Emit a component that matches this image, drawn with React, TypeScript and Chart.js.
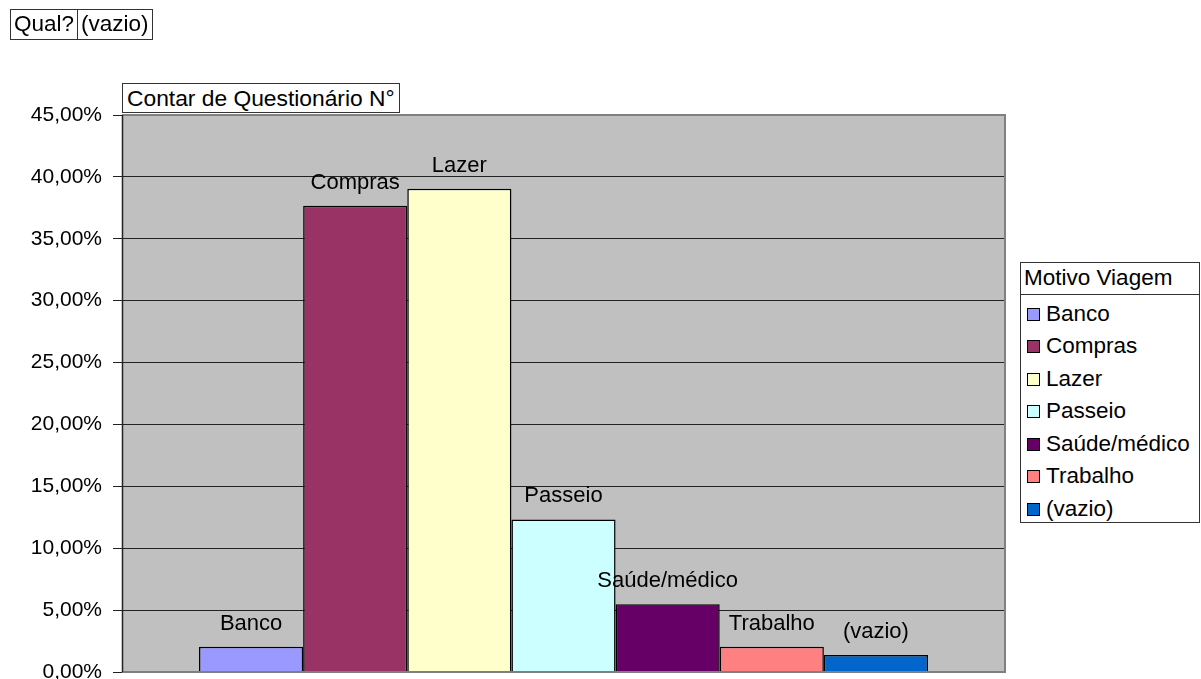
import React, { useEffect, useRef } from "react";
import { Chart, registerables } from "chart.js";

Chart.register(...registerables);

const categories = ["Banco", "Compras", "Lazer", "Passeio", "Saúde/médico", "Trabalho", "(vazio)"];
const values = [2.05, 37.67, 39.04, 12.33, 5.48, 2.05, 1.37];
const colors = ["#9999FF", "#993366", "#FFFFCC", "#CCFFFF", "#660066", "#FF8080", "#0066CC"];
const yTicks = [0, 5, 10, 15, 20, 25, 30, 35, 40, 45];
const legendTitle = "Motivo Viagem";
const pageFieldName = "Qual?";
const pageFieldValue = "(vazio)";
const dataFieldName = "Contar de Questionário N°";

const FONT = "'Liberation Sans', Arial, sans-serif";

const plotBgPlugin = {
  id: "plotBg",
  beforeDraw(chart: any) {
    const { ctx, chartArea: a } = chart;
    ctx.save();
    ctx.fillStyle = "#C0C0C0";
    ctx.fillRect(a.left, a.top, a.right - a.left, a.bottom - a.top);
    ctx.restore();
  },
  afterDraw(chart: any) {
    const { ctx, chartArea: a } = chart;
    ctx.save();
    ctx.strokeStyle = "#808080";
    ctx.lineWidth = 2;
    ctx.beginPath();
    ctx.moveTo(a.left, a.top);
    ctx.lineTo(a.right, a.top);
    ctx.lineTo(a.right, a.bottom);
    ctx.lineTo(a.left, a.bottom);
    ctx.stroke();
    ctx.strokeStyle = "#222";
    ctx.lineWidth = 1.5;
    ctx.beginPath();
    ctx.moveTo(a.left + 0.5, a.top);
    ctx.lineTo(a.left + 0.5, a.bottom);
    ctx.stroke();
    ctx.restore();
  },
};

const labelPlugin = {
  id: "barLabels",
  afterDatasetsDraw(chart: any) {
    const { ctx } = chart;
    ctx.save();
    ctx.font = `22px ${FONT}`;
    ctx.fillStyle = "#000";
    ctx.textAlign = "center";
    ctx.textBaseline = "middle";
    chart.data.datasets.forEach((ds: any, i: number) => {
      const meta = chart.getDatasetMeta(i);
      const bar = meta.data[0];
      if (!bar) return;
      ctx.fillText(ds.label, bar.x, bar.y - 23);
    });
    ctx.restore();
  },
};

export default function App() {
  const canvasRef = useRef<HTMLCanvasElement | null>(null);

  useEffect(() => {
    if (!canvasRef.current) return;
    const chart = new Chart(canvasRef.current, {
      type: "bar",
      data: {
        labels: [""],
        datasets: categories.map((c, i) => ({
          label: c,
          data: [values[i]],
          backgroundColor: colors[i],
          borderColor: "#000",
          borderWidth: 1.5,
          categoryPercentage: 729 / 883,
          barPercentage: 1,
        })),
      },
      options: {
        animation: false,
        responsive: false,
        maintainAspectRatio: false,
        layout: { padding: { left: 0, right: 196, top: 115, bottom: 7 } },
        plugins: { legend: { display: false }, tooltip: { enabled: false }, title: { display: false } },
        scales: {
          x: { display: false },
          y: {
            min: 0,
            max: 45,
            afterFit: (scale: any) => {
              scale.width = 122;
              scale.paddingTop = 0;
              scale.paddingBottom = 0;
            },
            afterBuildTicks: (scale: any) => {
              scale.ticks = yTicks.map((v) => ({ value: v }));
            },
            ticks: {
              padding: 11,
              color: "#000",
              font: { family: FONT, size: 21 },
              callback: (v: any) => Number(v).toFixed(2).replace(".", ",") + "%",
            },
            grid: { color: "#222", lineWidth: 1, tickLength: 9, tickColor: "#222", drawTicks: true },
            border: { display: true, color: "#222", width: 1 },
          },
        },
      },
      plugins: [plotBgPlugin, labelPlugin],
    } as any);
    return () => chart.destroy();
  }, []);

  const boxText: React.CSSProperties = {
    fontFamily: FONT,
    fontSize: 22,
    color: "#000",
    lineHeight: 1,
    whiteSpace: "nowrap",
  };

  return (
    <div style={{ position: "absolute", left: 0, top: 0, width: 1201, height: 679, background: "#fff", overflow: "hidden" }}>
      <canvas ref={canvasRef} width={1201} height={679} style={{ position: "absolute", left: 0, top: 0, width: 1201, height: 679 }} />
      {/* page field */}
      <div style={{ position: "absolute", left: 10, top: 9, height: 31, display: "flex", border: "1px solid #333", boxSizing: "border-box" }}>
        <div style={{ ...boxText, fontSize: 22.5, padding: "0 3px", display: "flex", alignItems: "center", borderRight: "1px solid #333" }}>{pageFieldName}</div>
        <div style={{ ...boxText, fontSize: 22.5, padding: "0 3px", display: "flex", alignItems: "center" }}>{pageFieldValue}</div>
      </div>
      {/* data field */}
      <div style={{ position: "absolute", left: 122, top: 83, height: 30, border: "1px solid #333", boxSizing: "border-box", background: "#fff", display: "flex", alignItems: "center", padding: "0 4px" }}>
        <span style={{ ...boxText, fontSize: 22.8 }}>{dataFieldName}</span>
      </div>
      {/* legend */}
      <div style={{ position: "absolute", left: 1020, top: 262, width: 180, height: 261, border: "1px solid #333", boxSizing: "border-box", background: "#fff" }}>
        <div style={{ position: "absolute", left: 0, top: 0, width: "100%", height: 32, borderBottom: "1px solid #333", boxSizing: "border-box", display: "flex", alignItems: "center", paddingLeft: 3 }}>
          <span style={{ ...boxText, fontSize: 22.5 }}>{legendTitle}</span>
        </div>
        {categories.map((c, i) => (
          <div key={c} style={{ position: "absolute", left: 6, top: 51 + i * 32.5 - 10, height: 20, display: "flex", alignItems: "center" }}>
            <div style={{ width: 13, height: 13, background: colors[i], border: "1px solid #000", boxSizing: "border-box", marginRight: 6 }} />
            <span style={{ ...boxText, fontSize: 22.5 }}>{c}</span>
          </div>
        ))}
      </div>
    </div>
  );
}
